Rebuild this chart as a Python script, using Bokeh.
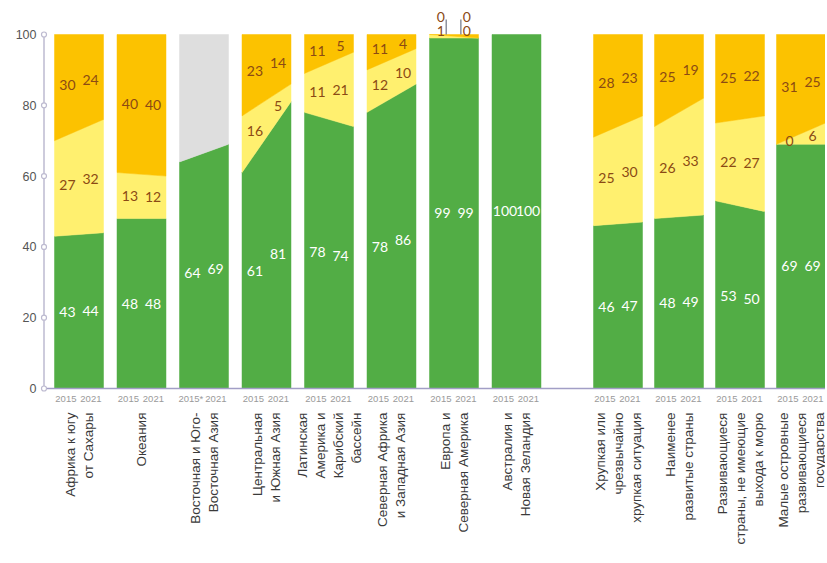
from bokeh.plotting import figure
from bokeh.models import Range1d, FixedTicker
from bokeh.embed import file_html
from bokeh.resources import INLINE
from bokeh.core.properties import value
import math

# ---------------- data ----------------
groups = [
    "Африка к югу\nот Сахары",
    "Океания",
    "Восточная и Юго-\nВосточная Азия",
    "Центральная\nи Южная Азия",
    "Латинская\nАмерика и\nКарибский\nбассейн",
    "Северная Африка\nи Западная Азия",
    "Европа и\nСеверная Америка",
    "Австралия и\nНовая Зеландия",
    "Хрупкая или\nчрезвычайно\nхрупкая ситуация",
    "Наименее\nразвитые страны",
    "Развивающиеся\nстраны, не имеющие\nвыхода к морю",
    "Малые островные\nразвивающиеся\nгосударства",
]
year_first = ["2015", "2015", "2015*", "2015", "2015", "2015", "2015", "2015",
              "2015", "2015", "2015", "2015"]
year_second = ["2021"] * 12

green_2015 = [43, 48, 64, 61, 78, 78, 99, 100, 46, 48, 53, 69]
green_2021 = [44, 48, 69, 81, 74, 86, 99, 100, 47, 49, 50, 69]
light_2015 = [27, 13, None, 16, 11, 12, 1, None, 25, 26, 22, 0]
light_2021 = [32, 12, None, 5, 21, 10, 0, None, 30, 33, 27, 6]
orange_2015 = [30, 40, None, 23, 11, 11, 0, None, 28, 25, 25, 31]
orange_2021 = [24, 40, None, 14, 5, 4, 0, None, 23, 19, 22, 25]
y_ticks = [0, 20, 40, 60, 80, 100]

# ---------------- style ----------------
GREEN = "#52ad45"
LIGHT = "#fff06f"
ORANGE = "#fcc200"
GREY = "#dedede"
BROWN = "#8b4a14"
AXIS_V = "#bdbad0"
AXIS_H = "#a29ec6"

n = len(groups)
gap_after = 8
second_start = 8.624
second_step = 0.976
centers = [float(i) if i < gap_after else second_start + (i - gap_after) * second_step
           for i in range(n)]
half = 0.392
lab_off = 0.185
x_axis_pos = -0.56
X_END = 11.944

p = figure(width=825, height=556,
           x_range=Range1d(-0.68, X_END), y_range=Range1d(-47.46, 109.6),
           min_border_left=36, min_border_right=0, min_border_top=0, min_border_bottom=0,
           x_axis_location=None, toolbar_location=None, output_backend="svg",
           outline_line_color=None)
p.grid.grid_line_color = None
p.yaxis.ticker = FixedTicker(ticks=y_ticks)
p.yaxis.axis_line_color = None
p.yaxis.major_tick_line_color = None
p.yaxis.minor_tick_line_color = None
p.yaxis.major_tick_out = 0
p.yaxis.major_tick_in = 0
p.yaxis.major_label_standoff = 0
p.yaxis.major_label_text_font = "Liberation Sans"
p.yaxis.major_label_text_font_size = "12.5px"
p.yaxis.major_label_text_color = "#555555"

xs, ys, cols = [], [], []


def add_poly(c, b0, b1, t0, t1, col):
    if t0 - b0 <= 0 and t1 - b1 <= 0:
        return
    xs.append([c - half, c + half, c + half, c - half])
    ys.append([b0, b1, t1, t0])
    cols.append(col)


lab_x, lab_y, lab_t, lab_c = [], [], [], []
lead_x0, lead_y0, lead_y1 = [], [], []


def interp(a, b, f):
    return a + (b - a) * f


f1 = (half - lab_off) / (2 * half)
f2 = 1 - f1

for i in range(n):
    c = centers[i]
    g0, g1 = green_2015[i], green_2021[i]
    add_poly(c, 0, 0, g0, g1, GREEN)
    lab_x += [c - lab_off, c + lab_off]
    lab_y += [interp(g0, g1, f1) / 2, interp(g0, g1, f2) / 2]
    lab_t += [str(g0), str(g1)]
    lab_c += ["white", "white"]
    if light_2015[i] is None:
        add_poly(c, g0, g1, 100, 100, GREY)
        continue
    l0, l1 = min(100, g0 + light_2015[i]), min(100, g1 + light_2021[i])
    add_poly(c, g0, g1, l0, l1, LIGHT)
    add_poly(c, l0, l1, 100, 100, ORANGE)
    thin = max(light_2015[i], light_2021[i], orange_2015[i], orange_2021[i]) < 3
    if thin:
        lab_x += [c - 0.21, c + 0.205, c - 0.21, c + 0.205]
        lab_y += [100.9, 100.9, 104.9, 104.9]
        lab_t += [str(light_2015[i]), str(light_2021[i]), str(orange_2015[i]), str(orange_2021[i])]
        lab_c += [BROWN] * 4
        lead_x0 += [c - 0.125, c + 0.11]
        lead_y0 += [100, 100]
        lead_y1 += [104.2, 104.2]
    else:
        gm0, gm1 = interp(g0, g1, f1), interp(g0, g1, f2)
        lm0, lm1 = interp(l0, l1, f1), interp(l0, l1, f2)
        lab_x += [c - lab_off, c + lab_off, c - lab_off, c + lab_off]
        lab_y += [(gm0 + lm0) / 2, (gm1 + lm1) / 2, (lm0 + 100) / 2, (lm1 + 100) / 2]
        lab_t += [str(light_2015[i]), str(light_2021[i]), str(orange_2015[i]), str(orange_2021[i])]
        lab_c += [BROWN] * 4

p.patches(xs, ys, fill_color=cols, line_color=cols, line_width=0.5)

# axes
p.segment(x0=[x_axis_pos], y0=[0], x1=[x_axis_pos], y1=[100], line_color=AXIS_V, line_width=1.5)
p.segment(x0=[x_axis_pos], y0=[0], x1=[X_END], y1=[0], line_color=AXIS_H, line_width=1.5)
p.scatter(x=[x_axis_pos] * len(y_ticks), y=y_ticks, size=5, marker="circle",
          fill_color="white", line_color=AXIS_V, line_width=1.2)

# leader lines
if lead_x0:
    p.segment(x0=lead_x0, y0=lead_y0, x1=lead_x0, y1=lead_y1, line_color="#6f7585", line_width=1.2)

# value labels
p.text(x=lab_x, y=lab_y, text=lab_t, text_color=lab_c, text_align="center",
       text_baseline="middle", text_font=value("Lato"), text_font_size="14px")

# year labels
p.text(x=[c - 0.21 for c in centers], y=[-2.9] * n, text=year_first, text_color="#9a9a9a",
       text_align="center", text_baseline="middle", text_font=value("Liberation Sans"),
       text_font_size="9.5px")
p.text(x=[c + 0.19 for c in centers], y=[-2.9] * n, text=year_second, text_color="#9a9a9a",
       text_align="center", text_baseline="middle", text_font=value("Liberation Sans"),
       text_font_size="9.5px")

# group labels
p.text(x=centers, y=[-6.8] * n, text=groups, angle=math.pi / 2, text_color="#3a3a3a",
       text_align="right", text_baseline="middle", text_font=value("Liberation Sans"),
       text_font_size="13.5px", text_line_height=1.2)

open("out.html", "w").write(file_html(p, INLINE))
